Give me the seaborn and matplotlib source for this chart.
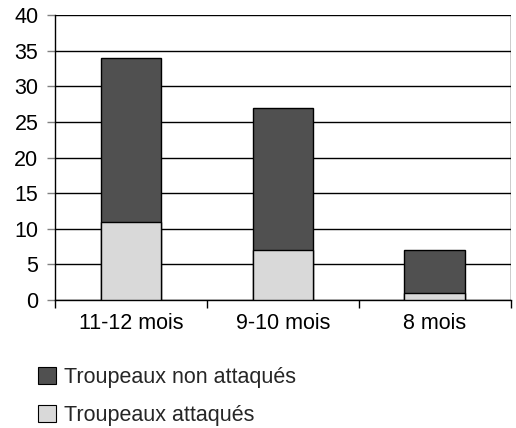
import matplotlib
matplotlib.use("Agg")
import matplotlib.pyplot as plt
import matplotlib.patches as mpatches
import seaborn as sns
import pandas as pd

# Data
categories = ["11-12 mois", "9-10 mois", "8 mois"]
attaques = [11, 7, 1]
non_attaques = [23, 20, 6]
series_labels = ["Troupeaux non attaqués", "Troupeaux attaqués"]

dark = "#505050"
light = "#d9d9d9"

df = pd.DataFrame({"age": categories, "attaques": attaques, "non_attaques": non_attaques})
df["total"] = df["attaques"] + df["non_attaques"]

sns.set_style("white")
plt.rcParams["font.family"] = ["Liberation Sans", "DejaVu Sans"]

fig = plt.figure(figsize=(5.16, 4.28), dpi=100)
ax = fig.add_axes([0.1066, 0.299, 0.8834, 0.666])

# stacked bars: total in dark, bottom part in light drawn over it
sns.barplot(data=df, x="age", y="total", color=dark, width=0.4, edgecolor="black",
            linewidth=1, saturation=1, ax=ax, zorder=3)
sns.barplot(data=df, x="age", y="attaques", color=light, width=0.4, edgecolor="black",
            linewidth=1, saturation=1, ax=ax, zorder=4)

ax.set_ylim(0, 40)
ax.set_xlim(-0.5, 2.5)
ax.set_yticks(range(0, 41, 5))
ax.yaxis.grid(True, color="black", linewidth=1)
ax.set_axisbelow(True)
ax.set_xlabel("")
ax.set_ylabel("")

for side in ["top", "right"]:
    ax.spines[side].set_visible(False)
for side in ["left", "bottom"]:
    ax.spines[side].set_color("black")
    ax.spines[side].set_linewidth(1)

ax.tick_params(axis="y", which="major", left=True, length=6, width=1, color="gray",
               labelsize=15.5, pad=6, labelcolor="black")
ax.tick_params(axis="x", which="major", bottom=False, labelsize=15.5, pad=6,
               labelcolor="black")
ax.set_xticks([-0.5, 0.5, 1.5, 2.5], minor=True)
ax.tick_params(axis="x", which="minor", bottom=True, length=6, width=1, color="black")

# right edge line
ax.axvline(2.5, ymin=0, ymax=1, color="black", linewidth=1, zorder=1)

handles = [mpatches.Patch(facecolor=dark, edgecolor="black", linewidth=0.8),
           mpatches.Patch(facecolor=light, edgecolor="black", linewidth=0.8)]
fig.legend(handles, series_labels, loc="upper left", bbox_to_anchor=(0.0736, 0.1425),
           frameon=False, fontsize=15.5, handlelength=0.85, handleheight=0.85,
           handletextpad=0.35, labelspacing=0.8, borderaxespad=0, borderpad=0)

fig.savefig("out.png", dpi=100)
